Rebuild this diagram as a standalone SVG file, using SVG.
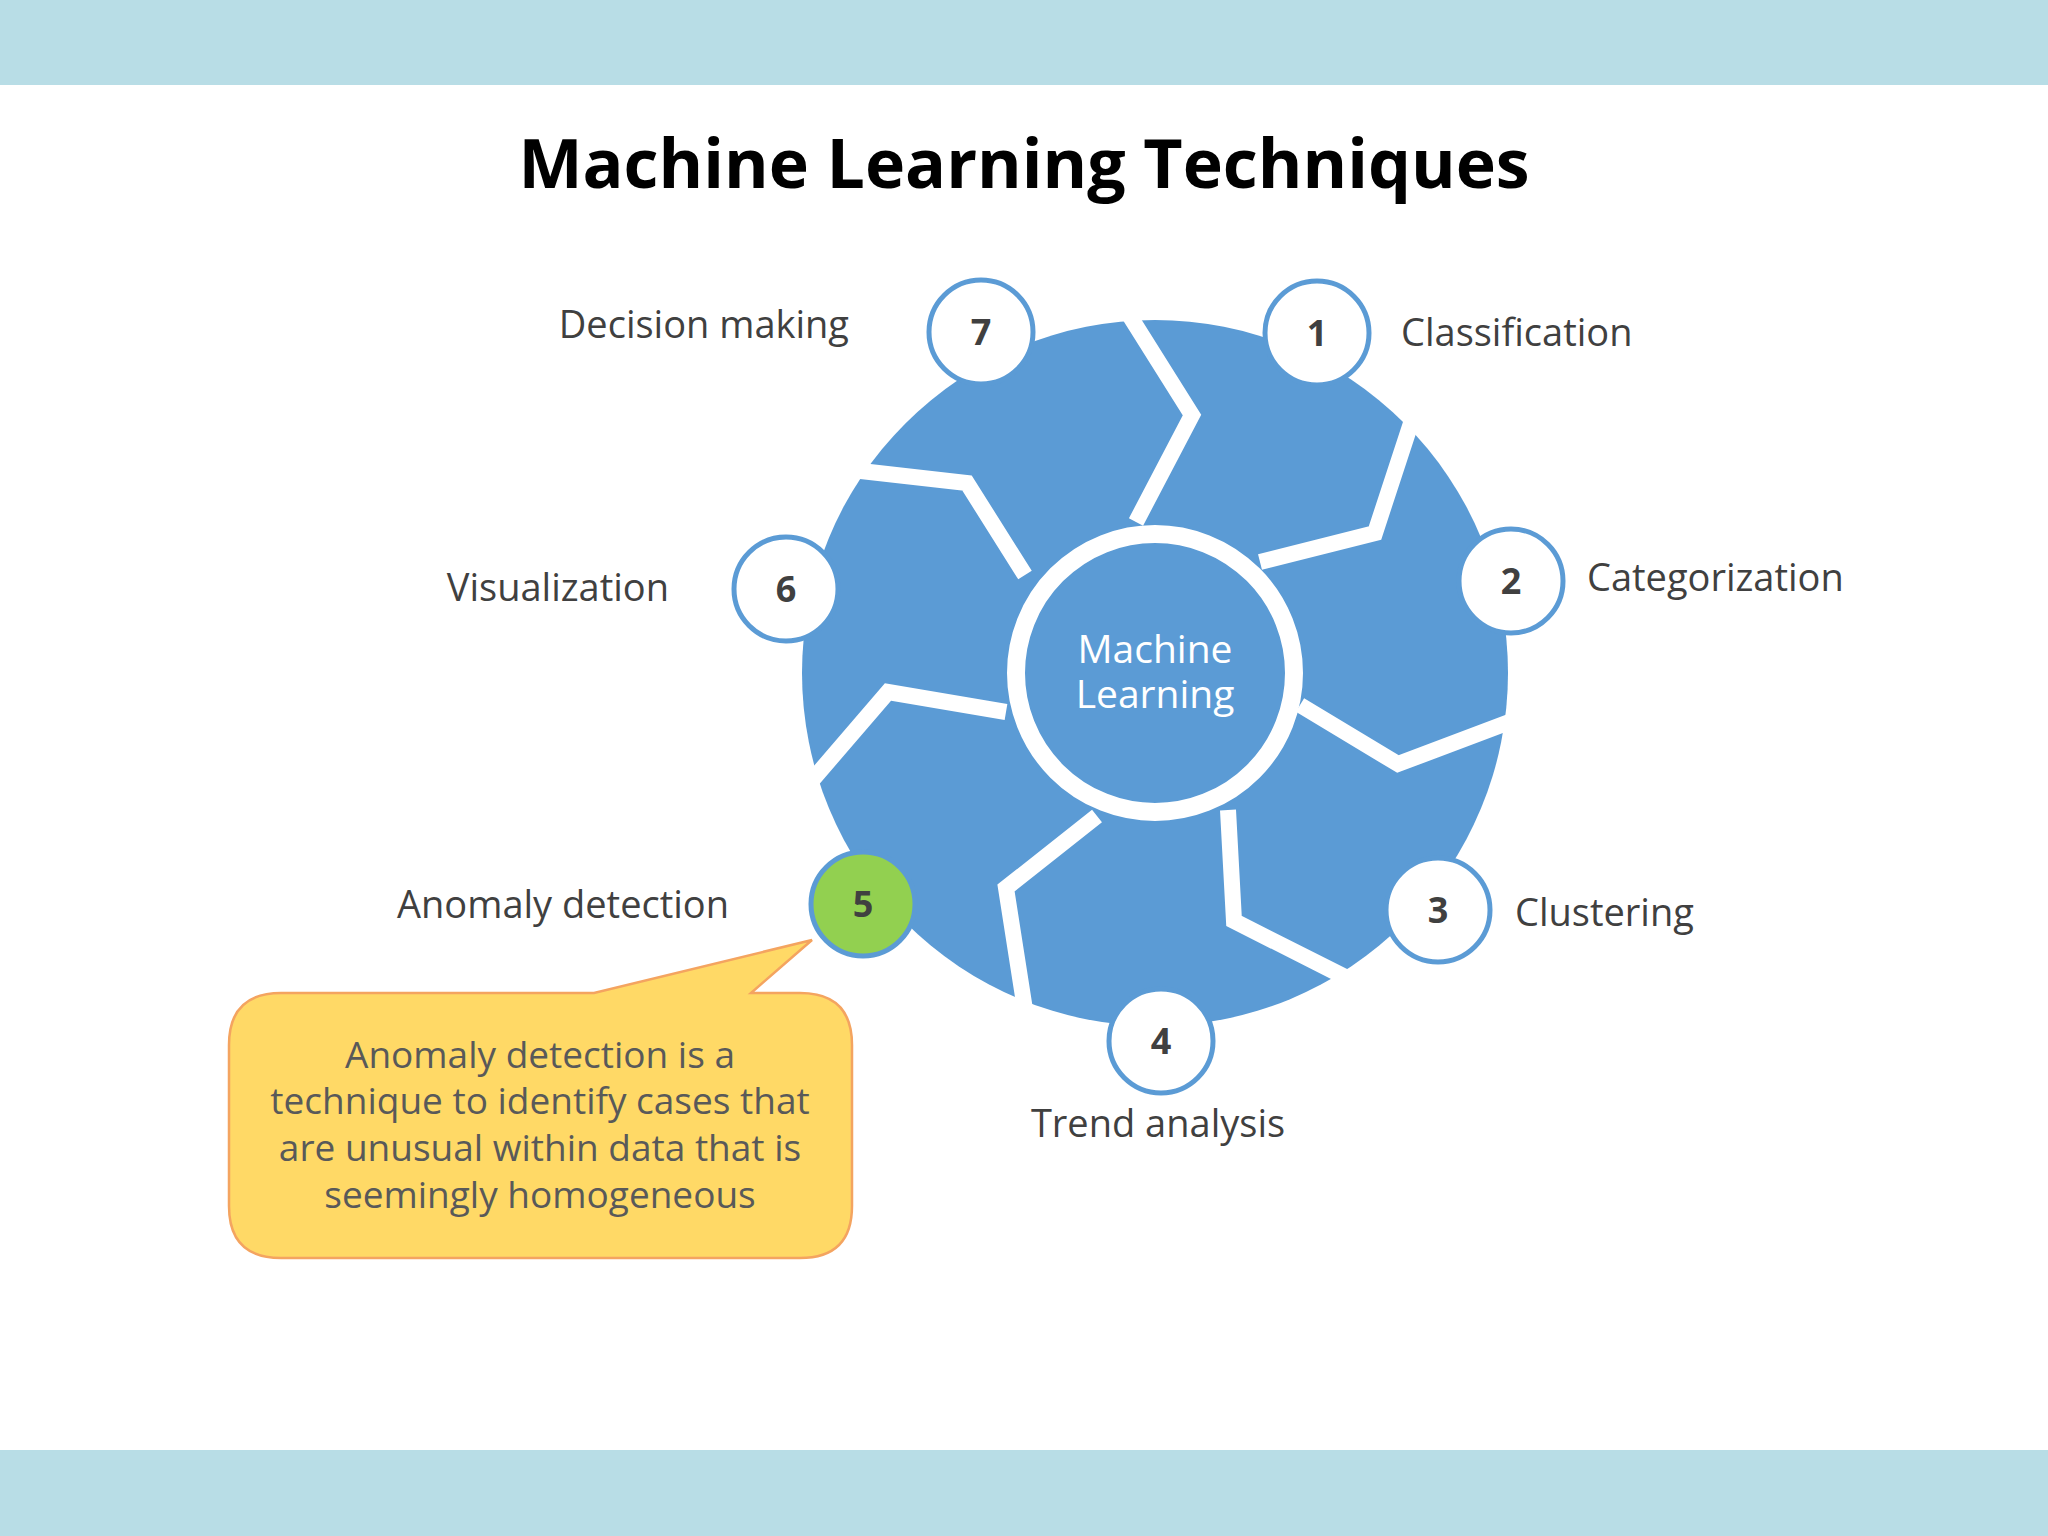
<svg xmlns="http://www.w3.org/2000/svg" width="2048" height="1536" viewBox="0 0 2048 1536">
<style>
.sep{fill:none;stroke:#fff;stroke-width:16;stroke-linejoin:miter}
.num circle{fill:#fff;stroke:#5b9bd5;stroke-width:5}
.num text{font-family:"Open Sans","Liberation Sans",sans-serif;font-weight:bold;font-size:36px;fill:#404040;text-anchor:middle}
.lbl{font-family:"Open Sans","Liberation Sans",sans-serif;font-size:38px;fill:#404040}
.call{font-family:"Open Sans","Liberation Sans",sans-serif;font-size:37px;fill:#595959;text-anchor:middle}
</style>
<rect width="2048" height="1536" fill="#fff"/>
<rect x="0" y="0" width="2048" height="85" fill="#b8dde6"/>
<rect x="0" y="1450" width="2048" height="86" fill="#b8dde6"/>
<text x="1024" y="188" font-family="Open Sans, Liberation Sans, sans-serif" font-weight="bold" font-size="68" text-anchor="middle" fill="#000">Machine Learning Techniques</text>
<g id="wheel">
<circle cx="1155" cy="673" r="353" fill="#5b9bd5"/>
</g>
<g id="connectors">
<polyline class="sep" points="1136,522 1192,415 1126,310"/>
<polyline class="sep" points="1260,562 1375,533 1414,414"/>
<polyline class="sep" points="1300,705 1398,764 1512,721"/>
<polyline class="sep" points="1228,810 1234,921 1345,977"/>
<polyline class="sep" points="1097,816 1006,888 1026,1016"/>
<polyline class="sep" points="1006,712 888,692 802,792"/>
<polyline class="sep" points="1025,575 967,483 852,470"/>
</g>
<g id="center">
<circle cx="1155" cy="673" r="139" fill="#5b9bd5" stroke="#fff" stroke-width="18"/>
<text x="1155" y="663" font-family="Open Sans, Liberation Sans, sans-serif" font-size="39" fill="#fff" text-anchor="middle">Machine</text>
<text x="1155" y="708" font-family="Open Sans, Liberation Sans, sans-serif" font-size="39" fill="#fff" text-anchor="middle">Learning</text>
</g>
<g id="n1" class="num"><circle cx="1317" cy="333" r="52"/><text x="1317" y="346">1</text></g>
<g id="n2" class="num"><circle cx="1511" cy="581" r="52"/><text x="1511" y="594">2</text></g>
<g id="n3" class="num"><circle cx="1438" cy="910" r="52"/><text x="1438" y="923">3</text></g>
<g id="n4" class="num"><circle cx="1161" cy="1041" r="52"/><text x="1161" y="1054">4</text></g>
<g id="n5" class="num"><circle cx="863" cy="904" r="52" style="fill:#92d050"/><text x="863" y="917">5</text></g>
<g id="n6" class="num"><circle cx="786" cy="589" r="52"/><text x="786" y="602">6</text></g>
<g id="n7" class="num"><circle cx="981" cy="332" r="52"/><text x="981" y="345">7</text></g>
<g id="labels">
<text class="lbl" x="849" y="338" text-anchor="end">Decision making</text>
<text class="lbl" x="1401" y="346">Classification</text>
<text class="lbl" x="1587" y="591">Categorization</text>
<text class="lbl" x="669" y="601" text-anchor="end">Visualization</text>
<text class="lbl" x="1515" y="926">Clustering</text>
<text class="lbl" x="729" y="918" text-anchor="end">Anomaly detection</text>
<text class="lbl" x="1158" y="1137" text-anchor="middle">Trend analysis</text>
</g>
<g id="callout">
<path d="M281,993 L594,993 L812,940 L751,993 L800,993 Q852,993 852,1045 L852,1206 Q852,1258 800,1258 L281,1258 Q229,1258 229,1206 L229,1045 Q229,993 281,993 Z" fill="#ffd966" stroke="#f4a460" stroke-width="2.5"/>
<text class="call" x="540" y="1068">Anomaly detection is a</text>
<text class="call" x="540" y="1114">technique to identify cases that</text>
<text class="call" x="540" y="1161">are unusual within data that is</text>
<text class="call" x="540" y="1208">seemingly homogeneous</text>
</g>
</svg>
